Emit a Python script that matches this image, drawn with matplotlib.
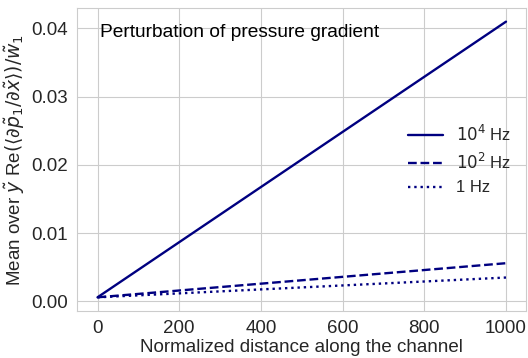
import matplotlib
matplotlib.use("Agg")
import matplotlib.pyplot as plt
import seaborn as sns

# distance along the channel and mean pressure-gradient perturbation
distance = [0, 1000]
grad_1e4 = [0.0006, 0.0410]
grad_1e2 = [0.0006, 0.0056]
grad_1 = [0.0006, 0.0035]

sns.set_style("whitegrid")
plt.rcParams["font.family"] = ["Liberation Sans", "DejaVu Sans"]

fig, ax = plt.subplots(figsize=(5.28, 3.58), dpi=100)
fig.subplots_adjust(left=0.146, right=0.997, top=0.978, bottom=0.131)

color = "#000080"
ax.plot(distance, grad_1e4, color=color, lw=1.7, ls="-", label=r"$10^4$ Hz")
ax.plot(distance, grad_1e2, color=color, lw=1.7, ls="--", label=r"$10^2$ Hz")
ax.plot(distance, grad_1, color=color, lw=1.7, ls=":", label="1 Hz")

ax.set_xticks([0, 200, 400, 600, 800, 1000])
ax.set_yticks([0.0, 0.01, 0.02, 0.03, 0.04])
ax.tick_params(labelsize=13.5, pad=3)
ax.set_xlabel("Normalized distance along the channel", fontsize=13.5, labelpad=1)
ax.set_ylabel(r"Mean over $\tilde{y}$ Re$(\langle\partial\tilde{p}_1/\partial\tilde{x}\rangle)/\tilde{w}_1$",
              fontsize=13.5, labelpad=3)

ax.text(0.05, 0.92, "Perturbation of pressure gradient", transform=ax.transAxes,
        fontsize=13.8, va="center", ha="left", color="black")
ax.legend(loc="center right", frameon=False, fontsize=12, handlelength=2.1)

fig.savefig("out.png", dpi=100)
